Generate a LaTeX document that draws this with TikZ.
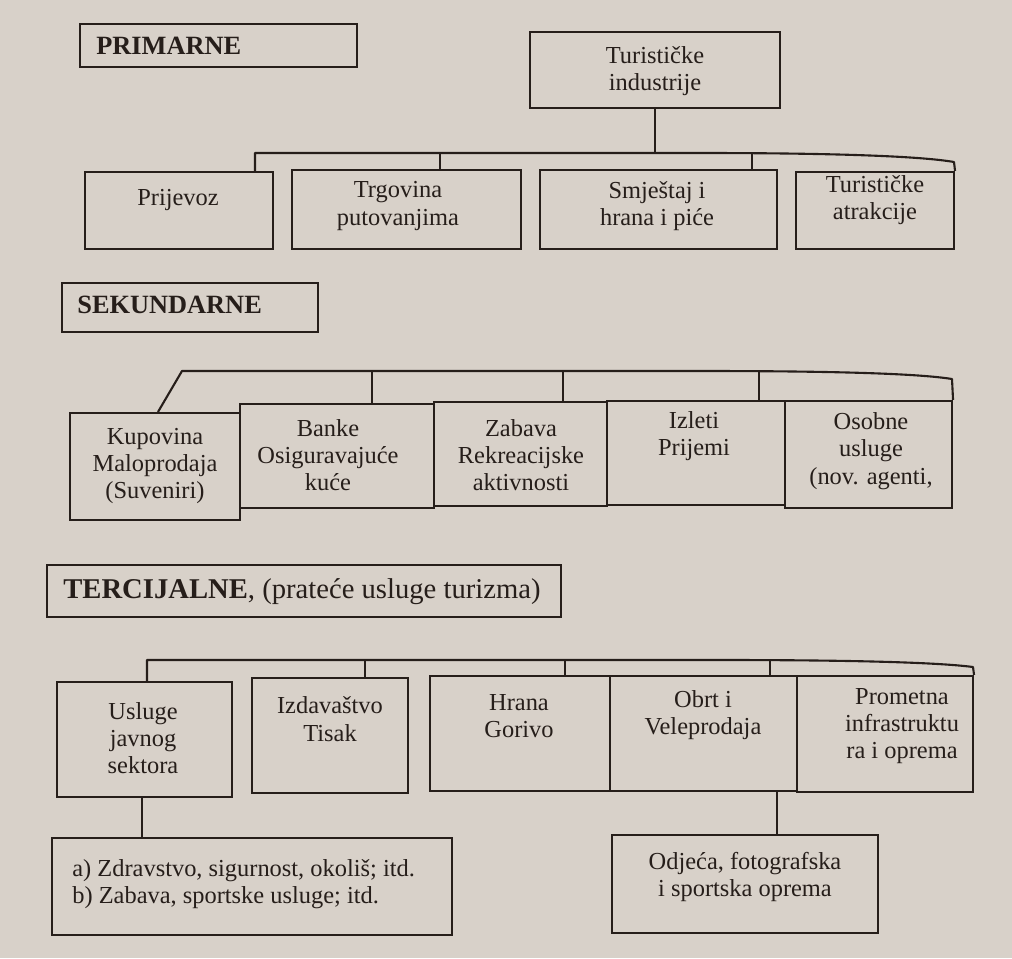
\documentclass[tikz,border=0pt]{standalone}
\usepackage{fontspec}
\setmainfont{Liberation Serif}
\usetikzlibrary{fit}
\definecolor{paper}{RGB}{216,209,201}
\definecolor{ink}{RGB}{38,30,26}
\tikzset{
  box/.style={draw=ink, line width=1.2pt, inner sep=0pt},
  txt/.style={text=ink, font=\fontsize{13.9}{15.5}\selectfont, align=center, inner sep=0pt},
  head/.style={text=ink, font=\fontsize{15}{17}\selectfont\bfseries, anchor=west, inner sep=0pt},
  link/.style={draw=ink, line width=1.2pt, line join=round},
}
\begin{document}
\begin{tikzpicture}[x=0.02cm, y=-0.02cm]
\fill[paper] (0,0) rectangle (1012,958);
\useasboundingbox (0,0) rectangle (1012,958);

% ---------------- PRIMARNE ----------------
\node[box, fit={(80,24)(357,67)}] (prim) {};
\node[head] (primt) at (96,46) {PRIMARNE};

\node[box, fit={(530,32)(780,108)}] (tind) {};
\node[txt] (tindt) at (655,71) {Turističke\\industrije};

\node[box, fit={(85,172)(273,249)}] (prij) {};
\node[txt] (prijt) at (178,200) {Prijevoz};
\node[box, fit={(292,170)(521,249)}] (trg) {};
\node[txt] (trgt) at (398,206) {Trgovina\\putovanjima};
\node[box, fit={(540,170)(777,249)}] (smj) {};
\node[txt] (smjt) at (657,206) {Smještaj i\\hrana i piće};
\node[box, fit={(796,172)(954,249)}] (tatr) {};
\node[txt] (tatrt) at (875,200) {Turističke\\atrakcije};

\coordinate (p1) at (255,153);
\coordinate (p2) at (440,153);
\coordinate (p3) at (655,153);
\coordinate (p4) at (752,153);
\coordinate (p5) at (954,162);
\draw[link] (tind.south) -- (p3);
\draw[link] (p1 |- prij.north) -- (p1) -- (700,153) .. controls (830,153) and (920,156) .. (p5) -- (tatr.north east);
\draw[link] (p2) -- (p2 |- trg.north);
\draw[link] (p4) -- (p4 |- smj.north);

% ---------------- SEKUNDARNE ----------------
\node[box, fit={(62,283)(318,332)}] (sek) {};
\node[head] (sekt) at (77,305) {SEKUNDARNE};

\node[box, fit={(70,413)(240,520)}] (kup) {};
\node[txt] (kupt) at (155,466) {Kupovina\\Maloprodaja\\(Suveniri)};
\node[box, fit={(240,404)(434,508)}] (ban) {};
\node[txt] (bant) at (328,455) {Banke\\Osiguravajuće\\kuće};
\node[box, fit={(434,402)(607,506)}] (zab) {};
\node[txt] (zabt) at (521,455) {Zabava\\Rekreacijske\\aktivnosti};
\node[box, fit={(607,401)(785,505)}] (izl) {};
\node[txt] (izlt) at (694,436) {Izleti\\Prijemi};
\node[box, fit={(785,401)(952,508)}] (oso) {};
\node[txt] (osot) at (871,451) {Osobne\\usluge\\(nov. agenti,};

\coordinate (s0) at (158,413);
\coordinate (s1) at (182,371);
\coordinate (s2) at (372,371);
\coordinate (s3) at (563,371);
\coordinate (s4) at (759,371);
\coordinate (s5) at (952,379);
\draw[link] (s0 |- kup.north) -- (s1) -- (700,371) .. controls (820,371) and (915,373) .. (s5) -- (oso.north east);
\draw[link] (s2) -- (s2 |- ban.north);
\draw[link] (s3) -- (s3 |- zab.north);
\draw[link] (s4) -- (s4 |- izl.north);

% ---------------- TERCIJALNE ----------------
\node[box, fit={(47,565)(561,617)}] (ter) {};
\node[text=ink, anchor=west, inner sep=0pt, font=\fontsize{16.3}{18}\selectfont] (tert) at (63,592) {\textbf{TERCIJALNE}, (prateće usluge turizma)};

\node[box, fit={(57,682)(232,797)}] (usl) {};
\node[txt] (uslt) at (143,738) {Usluge\\javnog\\sektora};
\node[box, fit={(252,678)(408,793)}] (izd) {};
\node[txt] (izdt) at (330,719) {Izdavaštvo\\Tisak};
\node[box, fit={(430,676)(610,791)}] (hra) {};
\node[txt] (hrat) at (519,716) {Hrana\\Gorivo};
\node[box, fit={(610,676)(797,791)}] (obr) {};
\node[txt] (obrt) at (703,715) {Obrt i\\Veleprodaja};
\node[box, fit={(797,676)(973,792)}] (pro) {};
\node[txt] (prot) at (902,726) {Prometna\\infrastruktu\\ra i oprema};

\coordinate (t1) at (147,660);
\coordinate (t2) at (365,660);
\coordinate (t3) at (565,660);
\coordinate (t4) at (770,660);
\coordinate (t5) at (973,667);
\draw[link] (t1 |- usl.north) -- (t1) -- (720,660) .. controls (840,660) and (935,662) .. (t5) -- (pro.north east);
\draw[link] (t2) -- (t2 |- izd.north);
\draw[link] (t3) -- (t3 |- hra.north);
\draw[link] (t4) -- (t4 |- obr.north);

\node[box, fit={(52,838)(452,935)}] (ab) {};
\node[txt, anchor=west, align=left] (abt) at (72,884) {a) Zdravstvo, sigurnost, okoliš; itd.\\b) Zabava, sportske usluge; itd.};
\node[box, fit={(612,835)(878,933)}] (odj) {};
\node[txt] (odjt) at (745,877) {Odjeća, fotografska\\i sportska oprema};

\coordinate (u1) at (142,0);
\coordinate (u2) at (777,0);
\draw[link] (usl.south -| u1) -- (ab.north -| u1);
\draw[link] (obr.south -| u2) -- (odj.north -| u2);
\end{tikzpicture}
\end{document}
